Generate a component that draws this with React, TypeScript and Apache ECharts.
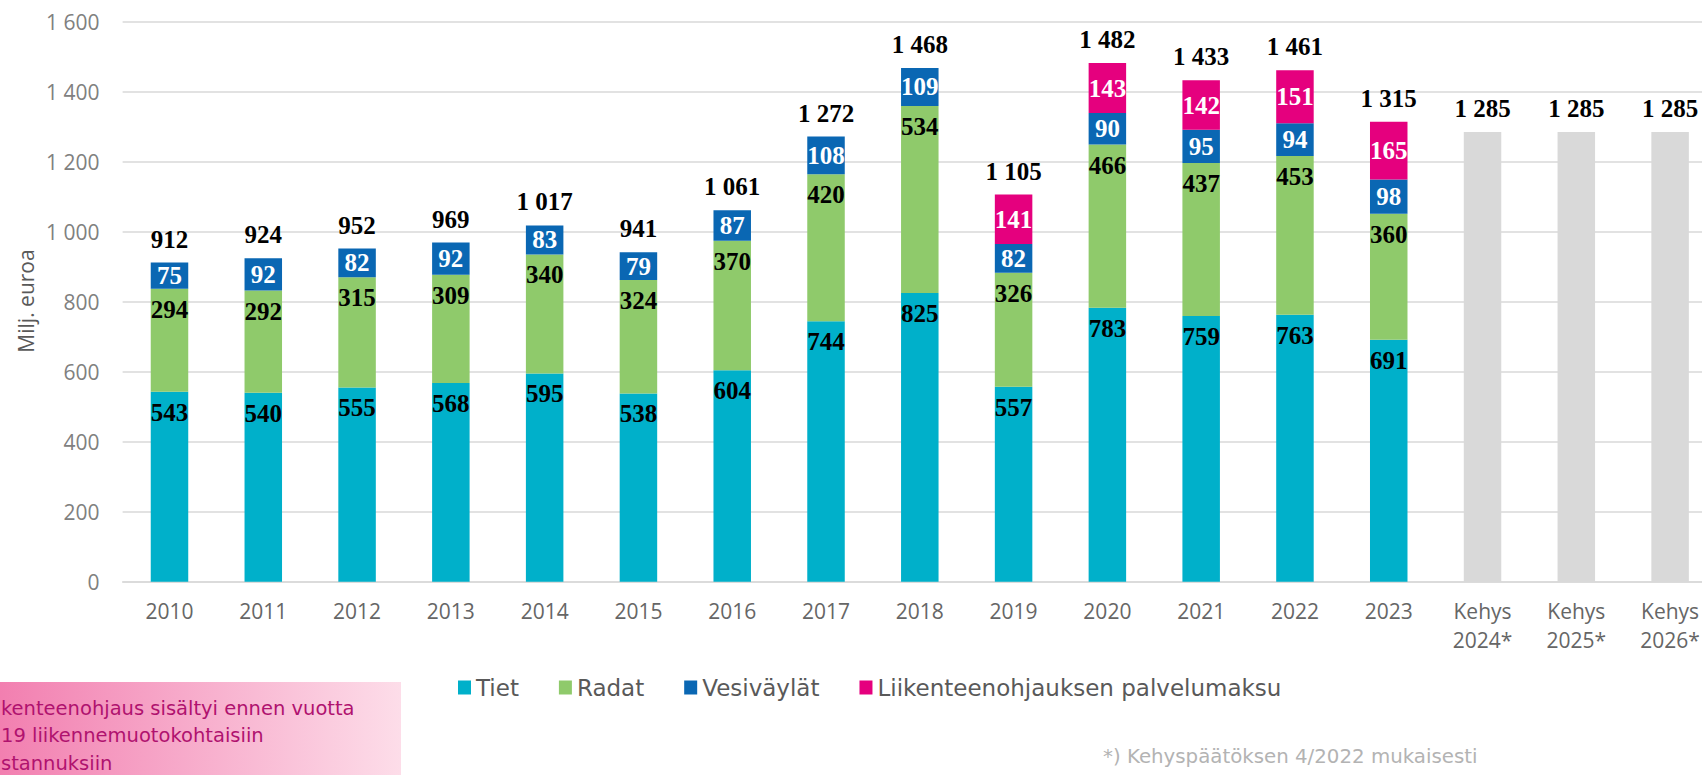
import React, { useEffect, useRef } from 'react';
import * as echarts from 'echarts';

const categories = ['2010', '2011', '2012', '2013', '2014', '2015', '2016', '2017', '2018', '2019', '2020', '2021', '2022', '2023', 'Kehys\n2024*', 'Kehys\n2025*', 'Kehys\n2026*'];
const tiet = [543, 540, 555, 568, 595, 538, 604, 744, 825, 557, 783, 759, 763, 691, null, null, null];
const radat = [294, 292, 315, 309, 340, 324, 370, 420, 534, 326, 466, 437, 453, 360, null, null, null];
const vesivaylat = [75, 92, 82, 92, 83, 79, 87, 108, 109, 82, 90, 95, 94, 98, null, null, null];
const liikenteenohjaus = [null, null, null, null, null, null, null, null, null, 141, 143, 142, 151, 165, null, null, null];
const kehys = [null, null, null, null, null, null, null, null, null, null, null, null, null, null, 1285, 1285, 1285];
const totals = [912, 924, 952, 969, 1017, 941, 1061, 1272, 1468, 1105, 1482, 1433, 1461, 1315, 1285, 1285, 1285];
const seriesNames = ['Tiet', 'Radat', 'Vesiväylät', 'Liikenteenohjauksen palvelumaksu'];
const yMin = 0;
const yMax = 1600;
const yInterval = 200;
const yAxisTitle = 'Milj. euroa';
const noteLines = ['kenteenohjaus sisältyi ennen vuotta', '19 liikennemuotokohtaisiin', 'stannuksiin'];
const footnote = '*) Kehyspäätöksen 4/2022 mukaisesti';

const fmt = (v: number) => String(v).replace(/\B(?=(\d{3})+(?!\d))/g, ' ');

const C_TIET = '#00B0CA';
const C_RADAT = '#8FCA6B';
const C_VESI = '#0A67B3';
const C_LIIK = '#E5007E';
const C_KEHYS = '#D9D9D9';

const labelFont = { fontFamily: "'Liberation Serif', serif", fontWeight: 'bold' as const, fontSize: 25 };

function inLabel(color: string, position: string, distance: number) {
  return {
    show: true,
    position,
    distance,
    color,
    ...labelFont,
    formatter: (p: any) => fmt(p.value),
  };
}

export default function App() {
  const ref = useRef<HTMLDivElement>(null);
  useEffect(() => {
    if (!ref.current) return;
    const chart = echarts.init(ref.current, null, { renderer: 'svg' });
    const barWidth = 37.5;
    const option: any = {
      animation: false,
      backgroundColor: '#ffffff',
      grid: { left: 122.6, right: -15, top: 21.7, bottom: 193.3, containLabel: false, outerBoundsMode: 'none' },
      legend: {
        data: seriesNames,
        left: 453,
        top: 671,
        icon: 'rect',
        itemWidth: 13,
        itemHeight: 14,
        itemGap: 40,
        textStyle: { fontFamily: "'DejaVu Sans', sans-serif", fontSize: 23, color: '#595959' },
      },
      xAxis: {
        type: 'category',
        data: categories,
        axisTick: { show: false },
        axisLine: { show: true, lineStyle: { color: '#D9D9D9', width: 1.5 } },
        axisLabel: {
          interval: 0,
          margin: 15,
          fontFamily: "'Open Sans', sans-serif",
          fontSize: 21,
          lineHeight: 29,
          color: '#666666',
        },
      },
      yAxis: {
        type: 'value',
        min: yMin,
        max: yMax,
        interval: yInterval,
        axisLine: { show: false },
        axisTick: { show: false },
        splitLine: { lineStyle: { color: '#D9D9D9', width: 1.5 } },
        axisLabel: {
          margin: 23,
          fontFamily: "'Open Sans', sans-serif",
          fontSize: 21,
          color: '#808080',
          formatter: (v: number) => fmt(v),
        },
      },
      series: [
        { name: seriesNames[0], type: 'bar', stack: 'a', barWidth, data: tiet, itemStyle: { color: C_TIET }, label: inLabel('#000000', 'insideTop', 8) },
        { name: seriesNames[1], type: 'bar', stack: 'a', barWidth, data: radat, itemStyle: { color: C_RADAT }, label: inLabel('#000000', 'insideTop', 8) },
        { name: seriesNames[2], type: 'bar', stack: 'a', barWidth, data: vesivaylat, itemStyle: { color: C_VESI }, label: inLabel('#ffffff', 'inside', 0) },
        { name: seriesNames[3], type: 'bar', stack: 'a', barWidth, data: liikenteenohjaus, itemStyle: { color: C_LIIK }, label: inLabel('#ffffff', 'inside', 0) },
        { name: 'Kehys', type: 'bar', stack: 'a', barWidth, data: kehys, itemStyle: { color: C_KEHYS }, label: { show: false } },
        {
          name: 'Yhteensä',
          type: 'bar',
          stack: 'a',
          barWidth,
          data: totals.map(() => 0),
          itemStyle: { color: 'rgba(0,0,0,0)' },
          label: {
            show: true,
            position: 'top',
            distance: 11,
            color: '#000000',
            ...labelFont,
            formatter: (p: any) => fmt(totals[p.dataIndex]),
          },
        },
      ],
      graphic: [
        {
          type: 'text',
          x: 26,
          y: 301,
          rotation: Math.PI / 2,
          style: {
            text: yAxisTitle,
            align: 'center',
            verticalAlign: 'middle',
            fontFamily: "'Open Sans', sans-serif",
            fontSize: 21,
            fill: '#595959',
          },
        },
        {
          type: 'rect',
          shape: { x: 0, y: 682, width: 401, height: 93 },
          style: {
            fill: new echarts.graphic.LinearGradient(0, 0, 1, 0, [
              { offset: 0, color: '#F27FB0' },
              { offset: 1, color: '#FDDDE9' },
            ]),
          },
          z: 1,
        },
        ...noteLines.map((t, i) => ({
          type: 'text',
          x: 1,
          y: 708 + i * 27.5,
          style: {
            text: t,
            align: 'left',
            verticalAlign: 'middle',
            fontFamily: "'DejaVu Sans', sans-serif",
            fontSize: 19.5,
            fill: '#B0126F',
          },
          z: 2,
        })),
        {
          type: 'text',
          x: 1103,
          y: 756,
          style: {
            text: footnote,
            align: 'left',
            verticalAlign: 'middle',
            fontFamily: "'DejaVu Sans', sans-serif",
            fontSize: 19.8,
            fill: '#B3B3B3',
          },
        },
      ],
    };
    chart.setOption(option);
    return () => chart.dispose();
  }, []);
  return <div ref={ref} style={{ position: 'fixed', left: 0, top: 0, width: 1702, height: 775 }} />;
}
